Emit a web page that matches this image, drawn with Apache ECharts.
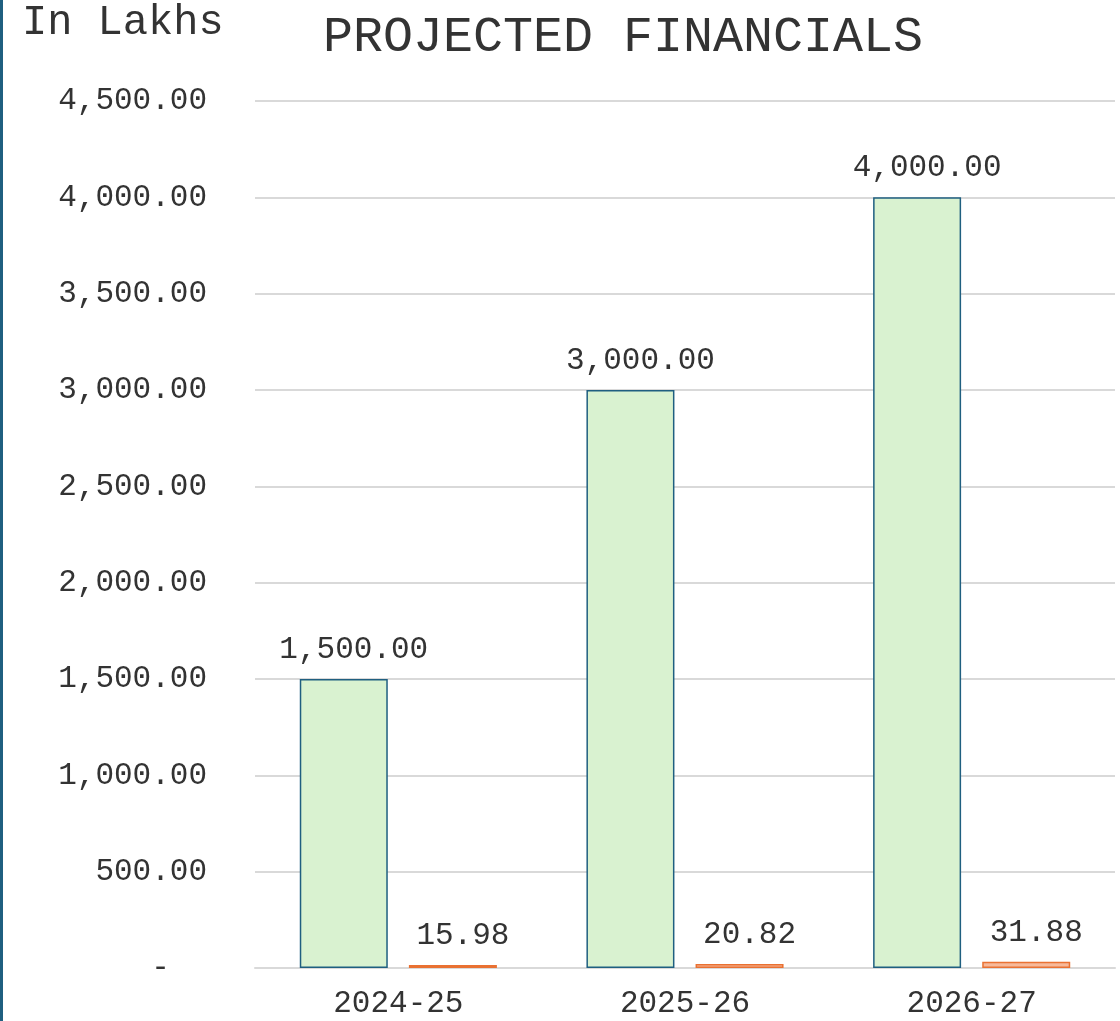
<!DOCTYPE html>
<html lang="en">
<head>
    <meta charset="UTF-8">
    <title>Projected Financials</title>
    <script src="https://fastly.jsdelivr.net/npm/echarts@6/dist/echarts.min.js"></script>
    <style>
        body { margin: 0; background: #fff; }
        #chart { width: 1120px; height: 1021px; }
    </style>
</head>
<body>
    <div id="chart"></div>
    <script>
        // data
        var years = ['2024-25', '2025-26', '2026-27'];
        var revenue = [1500, 3000, 4000];
        var profit = [15.98, 20.82, 31.88];

        var mono = '"Liberation Mono", "Courier New", monospace';
        var ink = '#333';

        function money(v) {
            if (v === 0) return '-  ';
            return v.toLocaleString('en-US', { minimumFractionDigits: 2, maximumFractionDigits: 2 });
        }

        var myChart = echarts.init(document.getElementById('chart'));
        var option = {
            animation: false,
            textStyle: { fontFamily: mono },
            title: {
                text: 'PROJECTED FINANCIALS',
                left: 618,
                textAlign: 'center',
                top: 8,
                textStyle: { fontFamily: mono, fontWeight: 'normal', fontSize: 50, color: ink }
            },
            graphic: [
                { type: 'rect', shape: { x: 0, y: 0, width: 3, height: 1021 }, style: { fill: '#1f5f80' } },
                { type: 'text', left: 22, top: 2,
                  style: { text: 'In Lakhs', font: '42px ' + mono, fill: ink } }
            ],
            grid: { left: 255, right: 5, top: 101, bottom: 53 },
            xAxis: {
                type: 'category',
                data: years,
                axisLine: { lineStyle: { color: '#d9d9d9', width: 2 } },
                axisTick: { show: false },
                axisLabel: { fontSize: 31, color: ink, margin: 20 }
            },
            yAxis: {
                type: 'value',
                min: 0,
                max: 4500,
                interval: 500,
                axisLine: { show: false },
                axisTick: { show: false },
                splitLine: { lineStyle: { color: '#d9d9d9', width: 2 } },
                axisLabel: { fontSize: 31, color: ink, margin: 48, formatter: money }
            },
            series: [
                {
                    type: 'bar',
                    data: revenue,
                    barWidth: 88,
                    barGap: '24%',
                    itemStyle: { color: '#d9f2d0', borderColor: '#1f5f80', borderWidth: 1.5 },
                    label: { show: true, position: 'top', distance: 14, offset: [10, 0], fontSize: 31, color: ink, formatter: function (p) { return money(p.value); } }
                },
                {
                    type: 'bar',
                    data: profit,
                    barWidth: 88,
                    itemStyle: { color: '#f6b99a', borderColor: '#e97132', borderWidth: 1.5 },
                    label: { show: true, position: 'top', distance: 14, offset: [10, 0], fontSize: 31, color: ink, formatter: function (p) { return money(p.value); } }
                }
            ]
        };
        myChart.setOption(option);
    </script>
</body>
</html>
